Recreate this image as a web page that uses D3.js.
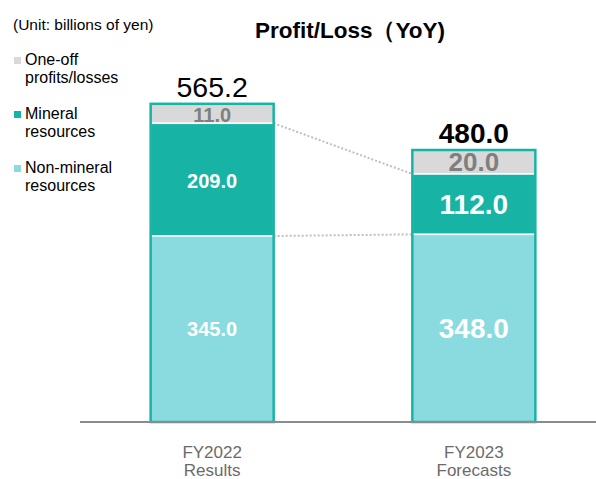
<!DOCTYPE html>
<html>
<head>
<meta charset="utf-8">
<script src="https://cdn.jsdelivr.net/npm/d3@7"></script>
<style>
  body { margin: 0; background: #fff; }
  text { font-family: "Liberation Sans", Arial, sans-serif; }
</style>
</head>
<body>
<div id="chart"></div>
<script>
// Values in billions of yen
const categories = ["FY2022|Results", "FY2023|Forecasts"]
const nonMineral = [345.0, 348.0]
const mineral = [209.0, 112.0]
const oneOff = [11.0, 20.0]
const totals = ["565.2", "480.0"]
const legendItems = [
  { key: "oneOff", lines: ["One-off", "profits/losses"], color: "#d9d9d9" },
  { key: "mineral", lines: ["Mineral", "resources"], color: "#17b3a5" },
  { key: "nonMineral", lines: ["Non-mineral", "resources"], color: "#8adbdf" }
]

const width = 596, height = 479
const baseY = 422

const svg = d3.select("#chart").append("svg")
  .attr("width", width)
  .attr("height", height)

const x = d3.scaleBand()
  .domain(categories)
  .range([80, 606])
  .paddingInner(0.53)
  .paddingOuter(0.27)

// value scale for the two resource segments
const y = d3.scaleLinear().domain([0, 345]).range([0, 186])
// the one-off band is drawn with its own (non-proportional) height
const yOneOff = d3.scaleLinear().domain([0, 20]).range([14, 24])

const colors = { nonMineral: "#8adbdf", mineral: "#17b3a5", oneOff: "#d9d9d9" }

const bars = categories.map((c, i) => {
  const nmTop = baseY - y(nonMineral[i])
  const mTop = nmTop - y(mineral[i])
  const oTop = mTop - yOneOff(oneOff[i])
  return { c, i, nmTop, mTop, oTop, x0: x(c), w: x.bandwidth() }
})

// dotted connector lines
const conn = svg.append("g")
  .attr("stroke", "#bfbfbf")
  .attr("stroke-width", 2)
  .attr("stroke-dasharray", "2,2")
conn.append("line")
  .attr("x1", bars[0].x0 + bars[0].w).attr("y1", bars[0].mTop)
  .attr("x2", bars[1].x0).attr("y2", bars[1].mTop)
conn.append("line")
  .attr("x1", bars[0].x0 + bars[0].w).attr("y1", bars[0].nmTop)
  .attr("x2", bars[1].x0).attr("y2", bars[1].nmTop)

bars.forEach(b => {
  const g = svg.append("g")
  const segs = [
    { top: b.oTop, bottom: b.mTop, color: colors.oneOff },
    { top: b.mTop, bottom: b.nmTop, color: colors.mineral },
    { top: b.nmTop, bottom: baseY, color: colors.nonMineral }
  ]
  g.selectAll("rect.seg")
    .data(segs)
    .enter()
    .append("rect")
    .attr("class", "seg")
    .attr("x", b.x0)
    .attr("y", d => d.top)
    .attr("width", b.w)
    .attr("height", d => d.bottom - d.top)
    .attr("fill", d => d.color)
    .attr("stroke", "#fff")
    .attr("stroke-width", 1.5)

  const cx = b.x0 + b.w / 2
  const big = b.i === 1
  g.append("text")
    .attr("x", cx)
    .attr("y", (b.oTop + b.mTop) / 2 + (big ? 0 : 1))
    .attr("dy", "0.36em")
    .attr("text-anchor", "middle")
    .attr("font-weight", "bold")
    .attr("font-size", big ? 26 : 20)
    .attr("fill", "#7f7f7f")
    .text(oneOff[b.i].toFixed(1))
  g.append("text")
    .attr("x", cx)
    .attr("y", (b.mTop + b.nmTop) / 2 + (big ? 0 : 1))
    .attr("dy", "0.36em")
    .attr("text-anchor", "middle")
    .attr("font-weight", "bold")
    .attr("font-size", big ? 28 : 20)
    .attr("fill", "#fff")
    .text(mineral[b.i].toFixed(1))
  g.append("text")
    .attr("x", cx)
    .attr("y", (b.nmTop + baseY) / 2)
    .attr("dy", "0.36em")
    .attr("text-anchor", "middle")
    .attr("font-weight", "bold")
    .attr("font-size", big ? 28 : 20)
    .attr("fill", "#fff")
    .text(nonMineral[b.i].toFixed(1))

  // outer teal outline
  g.append("rect")
    .attr("x", b.x0)
    .attr("y", b.oTop)
    .attr("width", b.w)
    .attr("height", baseY - b.oTop)
    .attr("fill", "none")
    .attr("stroke", "#17b3a5")
    .attr("stroke-width", 2.5)

  // totals
  g.append("text")
    .attr("x", cx)
    .attr("y", b.oTop - 7)
    .attr("text-anchor", "middle")
    .attr("font-weight", big ? "bold" : "normal")
    .attr("font-size", big ? 28 : 28.5)
    .attr("fill", "#000")
    .text(totals[b.i])

  // category labels
  const lines = b.c.split("|")
  lines.forEach((t, k) => {
    svg.append("text")
      .attr("x", cx)
      .attr("y", 458 + k * 18)
      .attr("text-anchor", "middle")
      .attr("font-size", 17)
      .attr("fill", "#6b6b6b")
      .text(t)
  })
})

// baseline
svg.append("line")
  .attr("x1", 80).attr("x2", width)
  .attr("y1", baseY).attr("y2", baseY)
  .attr("stroke", "#8c8c8c")
  .attr("stroke-width", 2)

// title
svg.append("text")
  .attr("x", 350)
  .attr("y", 38)
  .attr("text-anchor", "middle")
  .attr("font-weight", "bold")
  .attr("font-size", 22.5)
  .attr("fill", "#000")
  .text("Profit/Loss（YoY)")

// unit
svg.append("text")
  .attr("x", 13)
  .attr("y", 30)
  .attr("font-size", 15.5)
  .attr("fill", "#000")
  .text("(Unit: billions of yen)")

// legend
const legend = svg.append("g")
legendItems.forEach((item, i) => {
  const top = 65 + i * 54
  legend.append("rect")
    .attr("x", 14).attr("y", top - 8)
    .attr("width", 7).attr("height", 7)
    .attr("fill", item.color)
  item.lines.forEach((t, k) => {
    legend.append("text")
      .attr("x", 25)
      .attr("y", top + k * 18)
      .attr("font-size", 16)
      .attr("fill", "#000")
      .text(t)
  })
})
</script>
</body>
</html>
